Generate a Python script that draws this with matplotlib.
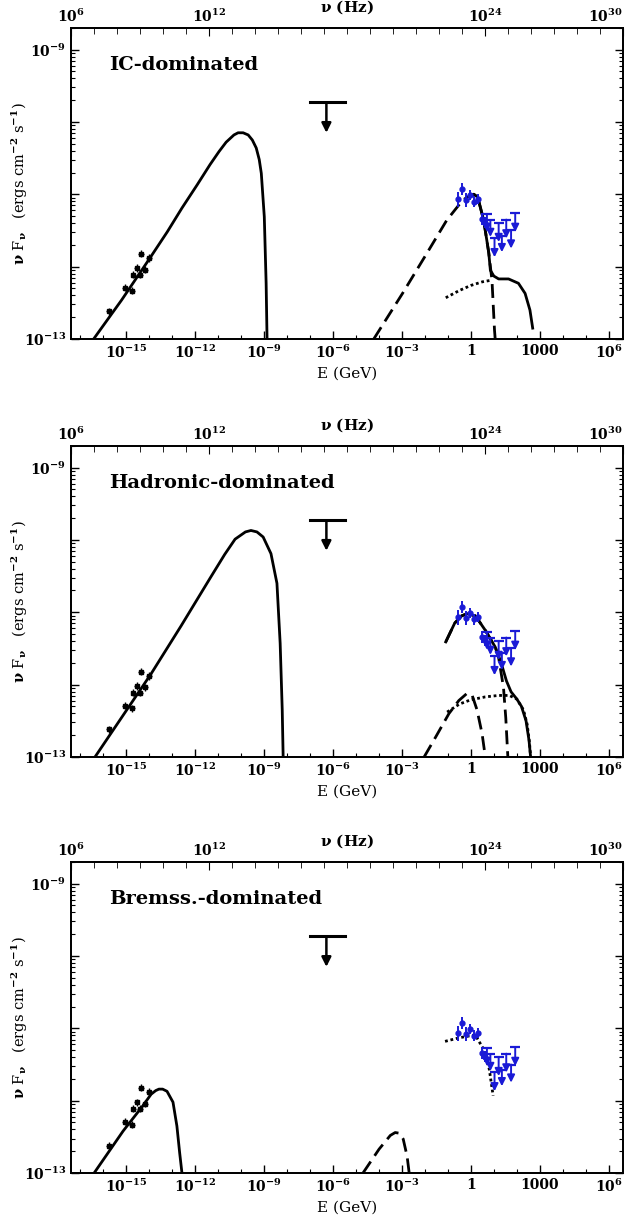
import numpy as np
import matplotlib
matplotlib.use('Agg')
import matplotlib.pyplot as plt
from matplotlib.ticker import FixedLocator, FixedFormatter, LogLocator, NullFormatter

plt.rcParams.update({
    'font.family': 'serif',
    'font.serif': ['DejaVu Serif'],
    'font.weight': 'bold',
    'mathtext.fontset': 'dejavuserif',
    'mathtext.default': 'bf',
    'axes.linewidth': 1.3,
    'xtick.direction': 'in',
    'ytick.direction': 'in',
})

H_GEV = 4.1357e-24      # GeV s, E = h nu
NU_LIM = (1e6, 1e30)
BLUE = '#1a1ad6'

# all values are log10(E / GeV), log10(nu F_nu / erg cm^-2 s^-1)
radio_logE = [-15.75, -15.03, -14.74, -14.67, -14.53, -14.38, -14.17, -14.34, -14.00]
radio_logF = [-12.62, -12.29, -12.33, -12.11, -12.02, -12.11, -12.04, -11.82, -11.88]

xul_logE = [-7.01, -5.49]
xul_center = -6.28
xul_top = -9.73
xul_tip = -10.15

lat_logE = [-0.55, -0.40, -0.23, -0.04, 0.13, 0.32, 0.49, 0.60]
lat_logF = [-11.07, -10.93, -11.08, -11.01, -11.10, -11.07, -11.34, -11.39]
lat_err = [0.10, 0.08, 0.10, 0.07, 0.08, 0.07, 0.08, 0.07]

ul_logE = [0.70, 0.85, 1.03, 1.21, 1.35, 1.54, 1.75, 1.93]
ul_top = [-11.27, -11.36, -11.61, -11.40, -11.57, -11.35, -11.50, -11.26]
ul_tip = [-11.52, -11.59, -11.87, -11.66, -11.80, -11.61, -11.75, -11.52]

# --- IC-dominated
ic_sync_E = [-16.40, -15.18, -13.95, -13.20, -12.56, -11.90, -11.34, -10.95, -10.64, -10.30, -10.12, -9.90, -9.68, -9.50, -9.33, -9.20, -9.11, -8.98, -8.90, -8.86]
ic_sync_F = [-13.00, -12.46, -11.88, -11.52, -11.19, -10.87, -10.59, -10.41, -10.28, -10.18, -10.15, -10.15, -10.18, -10.25, -10.36, -10.52, -10.71, -11.31, -12.23, -13.00]
ic_ic_E = [-4.22, -2.97, -1.92, -1.05, -0.35, 0.00, 0.13, 0.30, 0.56, 0.78, 0.92, 1.03, 1.06]
ic_ic_F = [-13.00, -12.37, -11.82, -11.36, -11.08, -11.01, -11.00, -11.04, -11.36, -11.81, -12.19, -12.88, -13.00]
ic_pi_E = [-1.09, -0.50, 0.00, 0.50, 0.85]
ic_pi_F = [-12.43, -12.33, -12.26, -12.21, -12.19]
ic_tot_E = [0.00, 0.13, 0.30, 0.56, 0.78, 0.85, 1.00, 1.21, 1.64, 2.07, 2.36, 2.57, 2.69]
ic_tot_F = [-11.01, -11.00, -11.04, -11.36, -11.81, -12.05, -12.13, -12.17, -12.17, -12.23, -12.37, -12.60, -12.85]

# --- Hadronic-dominated
had_sync_E = [-16.34, -13.90, -12.60, -11.30, -10.70, -10.25, -9.80, -9.56, -9.30, -9.03, -8.69, -8.43, -8.29, -8.20, -8.16]
had_sync_F = [-13.00, -11.85, -11.19, -10.51, -10.20, -9.99, -9.89, -9.87, -9.89, -9.96, -10.19, -10.60, -11.43, -12.35, -13.00]
had_pi_E = [-1.09, -0.70, -0.40, -0.16, 0.20, 0.63, 1.06, 1.21, 1.42, 1.52, 1.61]
had_pi_F = [-11.41, -11.15, -11.05, -11.02, -11.05, -11.25, -11.48, -11.63, -12.04, -12.46, -13.00]
had_ic_E = [-2.03, -1.52, -0.95, -0.52, -0.16, 0.06, 0.27, 0.49, 0.63]
had_ic_F = [-13.00, -12.72, -12.40, -12.22, -12.12, -12.15, -12.35, -12.68, -13.00]
had_br_E = [-1.03, -0.50, 0.00, 0.63, 1.20, 1.67, 2.00, 2.29, 2.45, 2.55, 2.60]
had_br_F = [-12.38, -12.27, -12.21, -12.17, -12.15, -12.15, -12.20, -12.35, -12.55, -12.80, -13.00]
had_tot_E = [-1.09, -0.70, -0.40, -0.16, 0.20, 0.63, 1.06, 1.30, 1.55, 1.75, 2.00, 2.20, 2.40, 2.53, 2.59]
had_tot_F = [-11.41, -11.15, -11.05, -11.02, -11.05, -11.25, -11.48, -11.68, -11.95, -12.10, -12.20, -12.30, -12.50, -12.77, -12.97]

# --- Bremss.-dominated
br_sync_E = [-16.38, -15.12, -14.26, -13.90, -13.70, -13.56, -13.40, -13.21, -12.95, -12.78, -12.66, -12.56]
br_sync_F = [-13.00, -12.42, -12.07, -11.91, -11.86, -11.84, -11.84, -11.87, -12.02, -12.35, -12.72, -13.00]
br_ic_E = [-4.69, -3.99, -3.50, -3.29, -3.10, -2.94, -2.77, -2.68]
br_ic_F = [-13.00, -12.67, -12.48, -12.44, -12.45, -12.53, -12.77, -13.00]
br_br_E = [-1.12, -0.50, 0.19, 0.54, 0.80, 0.97]
br_br_F = [-11.18, -11.13, -11.09, -11.28, -11.56, -11.93]

panels = [
    ('IC-dominated', [
        (ic_sync_E, ic_sync_F, '-'),
        (ic_ic_E, ic_ic_F, (0, (5, 2.5))),
        (ic_pi_E, ic_pi_F, (0, (1, 1))),
        (ic_tot_E, ic_tot_F, '-'),
    ]),
    ('Hadronic-dominated', [
        (had_sync_E, had_sync_F, '-'),
        (had_pi_E, had_pi_F, (0, (5, 2.5))),
        (had_ic_E, had_ic_F, (0, (5, 2.5))),
        (had_br_E, had_br_F, (0, (1, 1))),
        (had_tot_E, had_tot_F, '-'),
    ]),
    ('Bremss.-dominated', [
        (br_sync_E, br_sync_F, '-'),
        (br_ic_E, br_ic_F, (0, (5, 2.5))),
        (br_br_E, br_br_F, (0, (1, 1))),
    ]),
]

p = lambda v: 10.0 ** np.asarray(v, float)

fig = plt.figure(figsize=(6.33, 12.3), dpi=100)
bottoms = [0.7244, 0.3846, 0.0463]

for (title, curves), b in zip(panels, bottoms):
    ax = fig.add_axes([0.1122, b, 0.872, 0.253])
    ax.set_xscale('log'); ax.set_yscale('log')
    ax.set_xlim(NU_LIM[0] * H_GEV, NU_LIM[1] * H_GEV)
    ax.set_ylim(1e-13, 2e-9)

    for xs, ys, ls in curves:
        ax.plot(p(xs), p(ys), color='k', lw=2.0, ls=ls, solid_joinstyle='round')

    # radio
    rf = p(radio_logF)
    ax.errorbar(p(radio_logE), rf, yerr=[rf * (1 - 10**-0.05), rf * (10**0.05 - 1)],
                xerr=[p(radio_logE) * (1 - 10**-0.12), p(radio_logE) * (10**0.12 - 1)],
                fmt='s', ms=3.5, color='k', elinewidth=1.0, capsize=0)
    # X-ray upper limit
    ax.plot(p(xul_logE), [10**xul_top] * 2, color='k', lw=2.2)
    ax.annotate('', xy=(10**xul_center, 10**xul_tip), xytext=(10**xul_center, 10**xul_top),
                arrowprops=dict(arrowstyle='-|>', color='k', lw=1.8, mutation_scale=14, shrinkA=0, shrinkB=0))
    # Fermi
    lf = np.array(lat_logF); le = np.array(lat_err)
    ax.errorbar(p(lat_logE), p(lf), yerr=[p(lf) - p(lf - le), p(lf + le) - p(lf)],
                fmt='o', ms=3.5, color=BLUE, elinewidth=1.4, capsize=0, zorder=5)
    for xe, yt, yb in zip(ul_logE, ul_top, ul_tip):
        ax.annotate('', xy=(10**xe, 10**yb), xytext=(10**xe, 10**yt),
                    arrowprops=dict(arrowstyle='-|>', color=BLUE, lw=1.4, mutation_scale=11, shrinkA=0, shrinkB=0), zorder=5)
        ax.plot([10**xe], [10**yt], marker='_', ms=7, mew=1.6, color=BLUE, zorder=5)

    # bottom axis
    maj = [-15, -12, -9, -6, -3, 0, 3, 6]
    ax.xaxis.set_major_locator(FixedLocator(p(maj)))
    ax.xaxis.set_major_formatter(FixedFormatter([r'$10^{-15}$', r'$10^{-12}$', r'$10^{-9}$', r'$10^{-6}$',
                                                 r'$10^{-3}$', '1', '1000', r'$10^{6}$']))
    ax.xaxis.set_minor_locator(FixedLocator(p(range(-17, 7))))
    ax.xaxis.set_minor_formatter(NullFormatter())
    ax.yaxis.set_major_locator(FixedLocator(p([-13, -12, -11, -10, -9])))
    ax.yaxis.set_major_formatter(FixedFormatter([r'$10^{-13}$', '', '', '', r'$10^{-9}$']))
    ax.yaxis.set_minor_locator(LogLocator(base=10, subs=np.arange(2, 10), numticks=20))
    ax.yaxis.set_minor_formatter(NullFormatter())
    ax.tick_params(which='both', top=False, right=True, labelsize=10)
    ax.tick_params(which='major', length=6, width=1.0)
    ax.tick_params(which='minor', length=3, width=0.8)
    ax.set_xlabel('E (GeV)', fontsize=11, labelpad=4)
    ax.set_ylabel(r'$\nu$ F$_\nu$   (ergs cm$^{-2}$ s$^{-1}$)', fontsize=10.5)
    ax.yaxis.set_label_coords(-0.075, 0.5)
    ax.text(0.069, 0.88, title, transform=ax.transAxes, fontsize=14, va='center', ha='left')

    # top axis: frequency
    ax2 = ax.twiny()
    ax2.set_xscale('log')
    ax2.set_xlim(*NU_LIM)
    ax2.set_xticks(p([6, 12, 24, 30]), labels=[r'$10^{6}$', r'$10^{12}$', r'$10^{24}$', r'$10^{30}$'])
    ax2.xaxis.set_minor_locator(FixedLocator(p(range(6, 31))))
    ax2.xaxis.set_minor_formatter(NullFormatter())
    ax2.tick_params(which='both', labelsize=10, pad=2)
    ax2.tick_params(which='major', length=6)
    ax2.tick_params(which='minor', length=4)
    ax2.get_xticklabels()[-1].set_horizontalalignment('right')
    ax.text(0.50, 1.065, r'$\nu$ (Hz)', transform=ax.transAxes, fontsize=11, ha='center', va='center')

fig.savefig('out.png', dpi=100)
